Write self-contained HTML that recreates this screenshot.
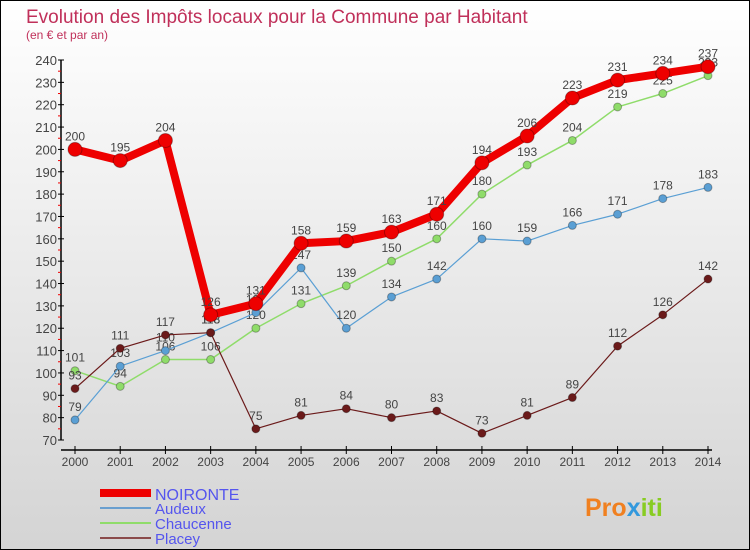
<!DOCTYPE html>
<html><head><meta charset="utf-8"><style>
body{margin:0;}
svg{display:block;font-family:"Liberation Sans",sans-serif;}
</style></head><body>
<svg id="c" width="750" height="550" xmlns="http://www.w3.org/2000/svg">
<defs><linearGradient id="bg" x1="0" y1="0" x2="0" y2="1"><stop offset="0" stop-color="#ffffff"/><stop offset="1" stop-color="#d4d4d4"/></linearGradient></defs>
<rect x="0.5" y="0.5" width="749" height="549" fill="url(#bg)" stroke="#000"/>
<text x="26" y="23" font-size="19" fill="#c0305a">Evolution des Impôts locaux pour la Commune par Habitant</text>
<text x="26" y="39" font-size="12" fill="#c0305a">(en € et par an)</text>
<g id="axes"></g><g id="series"></g>
<g>
<rect x="100" y="489" width="51" height="8" fill="#e00"/>
<text x="155" y="500" font-size="16" fill="#5555ee">NOIRONTE</text>
<line x1="100" y1="508" x2="151" y2="508" stroke="#6a9fcf" stroke-width="2"/>
<text x="155" y="514" font-size="15" fill="#5555ee">Audeux</text>
<line x1="100" y1="523" x2="151" y2="523" stroke="#8fdc6a" stroke-width="2"/>
<text x="155" y="529" font-size="15" fill="#5555ee">Chaucenne</text>
<line x1="100" y1="538" x2="151" y2="538" stroke="#8a4a4a" stroke-width="2"/>
<text x="155" y="544" font-size="15" fill="#5555ee">Placey</text>
</g>
<g><text x="585" y="516" font-size="25" font-weight="bold" fill="#f08020">Pro<tspan fill="#3399dd">x</tspan><tspan fill="#88cc22">iti</tspan></text></g>
</svg>
<script>
const years=[2000,2001,2002,2003,2004,2005,2006,2007,2008,2009,2010,2011,2012,2013,2014];
const noironte=[200,195,204,126,131,158,159,163,171,194,206,223,231,234,237];
const audeux=[79,103,110,118,127,147,120,134,142,160,159,166,171,178,183];
const chaucenne=[101,94,106,106,120,131,139,150,160,180,193,204,219,225,233];
const placey=[93,111,117,118,75,81,84,80,83,73,81,89,112,126,142];
const yTicks=[70,80,90,100,110,120,130,140,150,160,170,180,190,200,210,220,230,240];
const NS="http://www.w3.org/2000/svg";
function x(i){return 75+i*(708-75)/(years.length-1);}
function y(v){return 440-(v-70)*(380/170);}
function mk(tag,attrs,parent){const e=document.createElementNS(NS,tag);for(const k in attrs)e.setAttribute(k,attrs[k]);parent.appendChild(e);return e;}
const ax=document.getElementById('axes');
let l=mk('line',{x1:61,y1:y(240),x2:61,y2:y(70),stroke:'#000','stroke-width':1.5},ax);


l=mk('line',{x1:61,y1:450,x2:712,y2:450,stroke:'#000','stroke-width':1.5},ax);


yTicks.forEach((v,k)=>{
 let t=mk('line',{x1:58,y1:y(v),x2:64,y2:y(v),stroke:'#000'},ax);
 
 
 if(k<yTicks.length-1){let r=mk('line',{x1:58,y1:y(v+5),x2:61,y2:y(v+5),stroke:'#e00'},ax);
 
 }
 let tx=mk('text',{x:57,y:y(v)+5,'font-size':13,fill:'#444','text-anchor':'end'},ax);tx.textContent=v;
 
 
});
years.forEach((yr,i)=>{
 let t=mk('line',{x1:x(i),y1:446,x2:x(i),y2:454,stroke:'#000'},ax);
 
 
 let tx=mk('text',{x:x(i),y:466,'font-size':12,fill:'#444','text-anchor':'middle'},ax);tx.textContent=yr;
 
 
});
const sg=document.getElementById('series');
function draw(vals,color,w,r,name){
 const g=mk('g',{},sg);
 
 
 const p=mk('polyline',{points:vals.map((v,i)=>x(i)+','+y(v)).join(' '),fill:'none',stroke:color,'stroke-width':w,'stroke-linejoin':'round'},g);
 
 
 vals.forEach((v,i)=>{
  const c=mk('circle',{cx:x(i),cy:y(v),r:r,fill:color,stroke:'rgba(0,0,0,0.3)'},g);
  
  
  const t=mk('text',{x:x(i),y:y(v)-9,'font-size':12,fill:'#444','text-anchor':'middle'},g);t.textContent=v;
  
  
 });
}
draw(chaucenne,'#8fdc6a',1.5,4,'chaucenne');
draw(audeux,'#5a9fd4',1.2,4,'audeux');
draw(placey,'#6b1a1a',1.2,4,'placey');
draw(noironte,'#ee0000',8,7,'noironte');
</script>
</body></html>
